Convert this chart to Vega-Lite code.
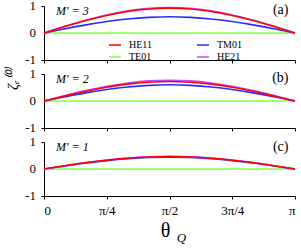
{
  "$schema": "https://vega.github.io/schema/vega-lite/v6.json",
  "padding": {"left": 5, "top": 0, "right": 0, "bottom": 0},
  "background": "white",
  "config": {
    "view": {"stroke": null},
    "concat": {"spacing": 1},
    "axis": {
      "grid": false,
      "domainColor": "black",
      "tickColor": "black",
      "labelColor": "black",
      "labelFont": "Liberation Serif",
      "labelFontSize": 13,
      "tickSize": 3,
      "domainWidth": 1,
      "tickWidth": 1,
      "labelOverlap": false
    },
    "axisX": {"labelPadding": 5},
    "axisY": {"labelPadding": 4},
    "text": {"font": "Liberation Serif", "color": "black"}
  },
  "resolve": {"legend": {"color": "independent"}},
  "datasets": {
    "d": [
      {"p":"a","m":"TE01","t":0,"v":0},{"p":"a","m":"TE01","t":3.1416,"v":0},
      {"p":"a","m":"TM01","t":0,"v":0},{"p":"a","m":"TM01","t":0.2618,"v":0.155},{"p":"a","m":"TM01","t":0.5236,"v":0.3},{"p":"a","m":"TM01","t":0.7854,"v":0.424},{"p":"a","m":"TM01","t":1.0472,"v":0.52},{"p":"a","m":"TM01","t":1.309,"v":0.58},{"p":"a","m":"TM01","t":1.5708,"v":0.6},{"p":"a","m":"TM01","t":1.8326,"v":0.58},{"p":"a","m":"TM01","t":2.0944,"v":0.52},{"p":"a","m":"TM01","t":2.3562,"v":0.424},{"p":"a","m":"TM01","t":2.618,"v":0.3},{"p":"a","m":"TM01","t":2.8798,"v":0.155},{"p":"a","m":"TM01","t":3.1416,"v":0},
      {"p":"a","m":"HE21","t":0,"v":0},{"p":"a","m":"HE21","t":0.2618,"v":0.245},{"p":"a","m":"HE21","t":0.5236,"v":0.473},{"p":"a","m":"HE21","t":0.7854,"v":0.668},{"p":"a","m":"HE21","t":1.0472,"v":0.818},{"p":"a","m":"HE21","t":1.309,"v":0.913},{"p":"a","m":"HE21","t":1.5708,"v":0.945},{"p":"a","m":"HE21","t":1.8326,"v":0.913},{"p":"a","m":"HE21","t":2.0944,"v":0.818},{"p":"a","m":"HE21","t":2.3562,"v":0.668},{"p":"a","m":"HE21","t":2.618,"v":0.473},{"p":"a","m":"HE21","t":2.8798,"v":0.245},{"p":"a","m":"HE21","t":3.1416,"v":0},
      {"p":"a","m":"HE11","t":0,"v":0},{"p":"a","m":"HE11","t":0.2618,"v":0.238},{"p":"a","m":"HE11","t":0.5236,"v":0.46},{"p":"a","m":"HE11","t":0.7854,"v":0.651},{"p":"a","m":"HE11","t":1.0472,"v":0.797},{"p":"a","m":"HE11","t":1.309,"v":0.889},{"p":"a","m":"HE11","t":1.5708,"v":0.92},{"p":"a","m":"HE11","t":1.8326,"v":0.889},{"p":"a","m":"HE11","t":2.0944,"v":0.797},{"p":"a","m":"HE11","t":2.3562,"v":0.651},{"p":"a","m":"HE11","t":2.618,"v":0.46},{"p":"a","m":"HE11","t":2.8798,"v":0.238},{"p":"a","m":"HE11","t":3.1416,"v":0},
      {"p":"b","m":"TE01","t":0,"v":0},{"p":"b","m":"TE01","t":3.1416,"v":0},
      {"p":"b","m":"TM01","t":0,"v":0},{"p":"b","m":"TM01","t":0.2618,"v":0.155},{"p":"b","m":"TM01","t":0.5236,"v":0.3},{"p":"b","m":"TM01","t":0.7854,"v":0.424},{"p":"b","m":"TM01","t":1.0472,"v":0.52},{"p":"b","m":"TM01","t":1.309,"v":0.58},{"p":"b","m":"TM01","t":1.5708,"v":0.6},{"p":"b","m":"TM01","t":1.8326,"v":0.58},{"p":"b","m":"TM01","t":2.0944,"v":0.52},{"p":"b","m":"TM01","t":2.3562,"v":0.424},{"p":"b","m":"TM01","t":2.618,"v":0.3},{"p":"b","m":"TM01","t":2.8798,"v":0.155},{"p":"b","m":"TM01","t":3.1416,"v":0},
      {"p":"b","m":"HE21","t":0,"v":0},{"p":"b","m":"HE21","t":0.2618,"v":0.199},{"p":"b","m":"HE21","t":0.5236,"v":0.385},{"p":"b","m":"HE21","t":0.7854,"v":0.544},{"p":"b","m":"HE21","t":1.0472,"v":0.667},{"p":"b","m":"HE21","t":1.309,"v":0.744},{"p":"b","m":"HE21","t":1.5708,"v":0.77},{"p":"b","m":"HE21","t":1.8326,"v":0.744},{"p":"b","m":"HE21","t":2.0944,"v":0.667},{"p":"b","m":"HE21","t":2.3562,"v":0.544},{"p":"b","m":"HE21","t":2.618,"v":0.385},{"p":"b","m":"HE21","t":2.8798,"v":0.199},{"p":"b","m":"HE21","t":3.1416,"v":0},
      {"p":"b","m":"HE11","t":0,"v":0},{"p":"b","m":"HE11","t":0.2618,"v":0.186},{"p":"b","m":"HE11","t":0.5236,"v":0.36},{"p":"b","m":"HE11","t":0.7854,"v":0.509},{"p":"b","m":"HE11","t":1.0472,"v":0.624},{"p":"b","m":"HE11","t":1.309,"v":0.695},{"p":"b","m":"HE11","t":1.5708,"v":0.72},{"p":"b","m":"HE11","t":1.8326,"v":0.695},{"p":"b","m":"HE11","t":2.0944,"v":0.624},{"p":"b","m":"HE11","t":2.3562,"v":0.509},{"p":"b","m":"HE11","t":2.618,"v":0.36},{"p":"b","m":"HE11","t":2.8798,"v":0.186},{"p":"b","m":"HE11","t":3.1416,"v":0},
      {"p":"c","m":"TE01","t":0,"v":0},{"p":"c","m":"TE01","t":3.1416,"v":0},
      {"p":"c","m":"TM01","t":0,"v":0},{"p":"c","m":"TM01","t":0.2618,"v":0.114},{"p":"c","m":"TM01","t":0.5236,"v":0.22},{"p":"c","m":"TM01","t":0.7854,"v":0.311},{"p":"c","m":"TM01","t":1.0472,"v":0.381},{"p":"c","m":"TM01","t":1.309,"v":0.425},{"p":"c","m":"TM01","t":1.5708,"v":0.44},{"p":"c","m":"TM01","t":1.8326,"v":0.425},{"p":"c","m":"TM01","t":2.0944,"v":0.381},{"p":"c","m":"TM01","t":2.3562,"v":0.311},{"p":"c","m":"TM01","t":2.618,"v":0.22},{"p":"c","m":"TM01","t":2.8798,"v":0.114},{"p":"c","m":"TM01","t":3.1416,"v":0},
      {"p":"c","m":"HE21","t":0,"v":0},{"p":"c","m":"HE21","t":0.2618,"v":0.122},{"p":"c","m":"HE21","t":0.5236,"v":0.235},{"p":"c","m":"HE21","t":0.7854,"v":0.332},{"p":"c","m":"HE21","t":1.0472,"v":0.407},{"p":"c","m":"HE21","t":1.309,"v":0.454},{"p":"c","m":"HE21","t":1.5708,"v":0.47},{"p":"c","m":"HE21","t":1.8326,"v":0.454},{"p":"c","m":"HE21","t":2.0944,"v":0.407},{"p":"c","m":"HE21","t":2.3562,"v":0.332},{"p":"c","m":"HE21","t":2.618,"v":0.235},{"p":"c","m":"HE21","t":2.8798,"v":0.122},{"p":"c","m":"HE21","t":3.1416,"v":0},
      {"p":"c","m":"HE11","t":0,"v":0},{"p":"c","m":"HE11","t":0.2618,"v":0.119},{"p":"c","m":"HE11","t":0.5236,"v":0.23},{"p":"c","m":"HE11","t":0.7854,"v":0.325},{"p":"c","m":"HE11","t":1.0472,"v":0.398},{"p":"c","m":"HE11","t":1.309,"v":0.444},{"p":"c","m":"HE11","t":1.5708,"v":0.46},{"p":"c","m":"HE11","t":1.8326,"v":0.444},{"p":"c","m":"HE11","t":2.0944,"v":0.398},{"p":"c","m":"HE11","t":2.3562,"v":0.325},{"p":"c","m":"HE11","t":2.618,"v":0.23},{"p":"c","m":"HE11","t":2.8798,"v":0.119},{"p":"c","m":"HE11","t":3.1416,"v":0}
    ]
  },
  "vconcat": [
    {
      "width": 251, "height": 54,
      "layer": [
        {
          "data": {"name": "d"},
          "transform": [{"filter": "datum.p == 'a'"}],
          "mark": {"type": "line", "strokeWidth": 1.6, "interpolate": "monotone"},
          "encoding": {
            "x": {"field": "t", "type": "quantitative", "scale": {"domain": [0, 3.1416], "nice": false},
                  "axis": {"values": [0, 0.7854, 1.5708, 2.3562, 3.1416], "labels": false, "title": null}},
            "y": {"field": "v", "type": "quantitative", "scale": {"domain": [-1, 1], "nice": false},
                  "axis": {"values": [-1, 0, 1], "title": null, "labels": false}},
            "color": {"field": "m", "type": "nominal",
                      "scale": {"domain": ["HE11", "TE01", "TM01", "HE21"], "range": ["#ff0000", "#80ff40", "#2b2bff", "#c04dff"]},
                      "legend": {"orient": "none", "legendX": 64, "legendY": 32, "columns": 2, "title": null,
                                 "symbolType": "stroke", "symbolSize": 144, "symbolStrokeWidth": 1.5,
                                 "labelFont": "Liberation Serif", "labelFontSize": 10, "labelColor": "black",
                                 "columnPadding": 42, "rowPadding": -2, "labelOffset": 7}}
          }
        },
        {
          "data": {"values": [{"s": "1", "q": 1}, {"s": "0", "q": 0}, {"s": "-1", "q": -1}]},
          "mark": {"type": "text", "fontSize": 13, "align": "right", "baseline": "middle", "dx": -8},
          "encoding": {"x": {"datum": 0, "type": "quantitative"}, "y": {"field": "q", "type": "quantitative"}, "text": {"field": "s"}}
        },
        {
          "data": {"values": [{}]},
          "mark": {"type": "text", "fontSize": 12, "fontStyle": "italic", "align": "left", "baseline": "middle"},
          "encoding": {"x": {"datum": 0.15, "type": "quantitative"}, "y": {"datum": 0.83, "type": "quantitative"}, "text": {"value": "M′ = 3"}}
        },
        {
          "data": {"values": [{}]},
          "mark": {"type": "text", "fontSize": 14, "align": "right", "baseline": "middle"},
          "encoding": {"x": {"datum": 3.06, "type": "quantitative"}, "y": {"datum": 0.84, "type": "quantitative"}, "text": {"value": "(a)"}}
        }
      ]
    },
    {
      "width": 251, "height": 54,
      "layer": [
        {
          "data": {"name": "d"},
          "transform": [{"filter": "datum.p == 'b'"}],
          "mark": {"type": "line", "strokeWidth": 1.6, "interpolate": "monotone"},
          "encoding": {
            "x": {"field": "t", "type": "quantitative", "scale": {"domain": [0, 3.1416], "nice": false},
                  "axis": {"values": [0, 0.7854, 1.5708, 2.3562, 3.1416], "labels": false, "title": null}},
            "y": {"field": "v", "type": "quantitative", "scale": {"domain": [-1, 1], "nice": false},
                  "axis": {"values": [-1, 0, 1], "labels": false, "title": "ζₑ⁽⁰⁾", "titleFont": "Liberation Serif", "titleFontSize": 15, "titleFontStyle": "italic", "titleFontWeight": "normal", "titlePadding": 20, "titleY": 5}},
            "color": {"field": "m", "type": "nominal",
                      "scale": {"domain": ["HE11", "TE01", "TM01", "HE21"], "range": ["#ff0000", "#80ff40", "#2b2bff", "#c04dff"]},
                      "legend": null}
          }
        },
        {
          "data": {"values": [{"s": "1", "q": 1}, {"s": "0", "q": 0}, {"s": "-1", "q": -1}]},
          "mark": {"type": "text", "fontSize": 13, "align": "right", "baseline": "middle", "dx": -8},
          "encoding": {"x": {"datum": 0, "type": "quantitative"}, "y": {"field": "q", "type": "quantitative"}, "text": {"field": "s"}}
        },
        {
          "data": {"values": [{}]},
          "mark": {"type": "text", "fontSize": 12, "fontStyle": "italic", "align": "left", "baseline": "middle"},
          "encoding": {"x": {"datum": 0.15, "type": "quantitative"}, "y": {"datum": 0.82, "type": "quantitative"}, "text": {"value": "M′ = 2"}}
        },
        {
          "data": {"values": [{}]},
          "mark": {"type": "text", "fontSize": 14, "align": "right", "baseline": "middle"},
          "encoding": {"x": {"datum": 3.06, "type": "quantitative"}, "y": {"datum": 0.84, "type": "quantitative"}, "text": {"value": "(b)"}}
        }
      ]
    },
    {
      "width": 251, "height": 54,
      "layer": [
        {
          "data": {"name": "d"},
          "transform": [{"filter": "datum.p == 'c'"}],
          "mark": {"type": "line", "strokeWidth": 1.6, "interpolate": "monotone"},
          "encoding": {
            "x": {"field": "t", "type": "quantitative", "scale": {"domain": [0, 3.1416], "nice": false},
                  "axis": {"values": [0, 0.7854, 1.5708, 2.3562, 3.1416], "title": "θ", "titleFont": "Liberation Serif", "titleFontSize": 20, "titleFontWeight": "normal", "titleColor": "black", "titlePadding": 3, "titleX": 121,
                           "labelExpr": "['0','π/4','π/2','3π/4','π'][round(datum.value / 0.7854)]"}},
            "y": {"field": "v", "type": "quantitative", "scale": {"domain": [-1, 1], "nice": false},
                  "axis": {"values": [-1, 0, 1], "title": null, "labels": false}},
            "color": {"field": "m", "type": "nominal",
                      "scale": {"domain": ["HE11", "TE01", "TM01", "HE21"], "range": ["#ff0000", "#80ff40", "#2b2bff", "#c04dff"]},
                      "legend": null}
          }
        },
        {
          "data": {"values": [{"s": "1", "q": 1}, {"s": "0", "q": 0}, {"s": "-1", "q": -1}]},
          "mark": {"type": "text", "fontSize": 13, "align": "right", "baseline": "middle", "dx": -8},
          "encoding": {"x": {"datum": 0, "type": "quantitative"}, "y": {"field": "q", "type": "quantitative"}, "text": {"field": "s"}}
        },
        {
          "data": {"values": [{}]},
          "mark": {"type": "text", "fontSize": 12, "fontStyle": "italic", "align": "left", "baseline": "middle"},
          "encoding": {"x": {"datum": 0.15, "type": "quantitative"}, "y": {"datum": 0.8, "type": "quantitative"}, "text": {"value": "M′ = 1"}}
        },
        {
          "data": {"values": [{}]},
          "mark": {"type": "text", "fontSize": 14, "align": "right", "baseline": "middle"},
          "encoding": {"x": {"datum": 3.06, "type": "quantitative"}, "y": {"datum": 0.82, "type": "quantitative"}, "text": {"value": "(c)"}}
        },
        {
          "data": {"values": [{}]},
          "mark": {"type": "text", "fontSize": 13, "fontStyle": "italic", "align": "left", "baseline": "alphabetic", "dy": 46},
          "encoding": {"x": {"datum": 1.66, "type": "quantitative"}, "y": {"datum": -1, "type": "quantitative"}, "text": {"value": "Q"}}
        }
      ]
    }
  ]
}
